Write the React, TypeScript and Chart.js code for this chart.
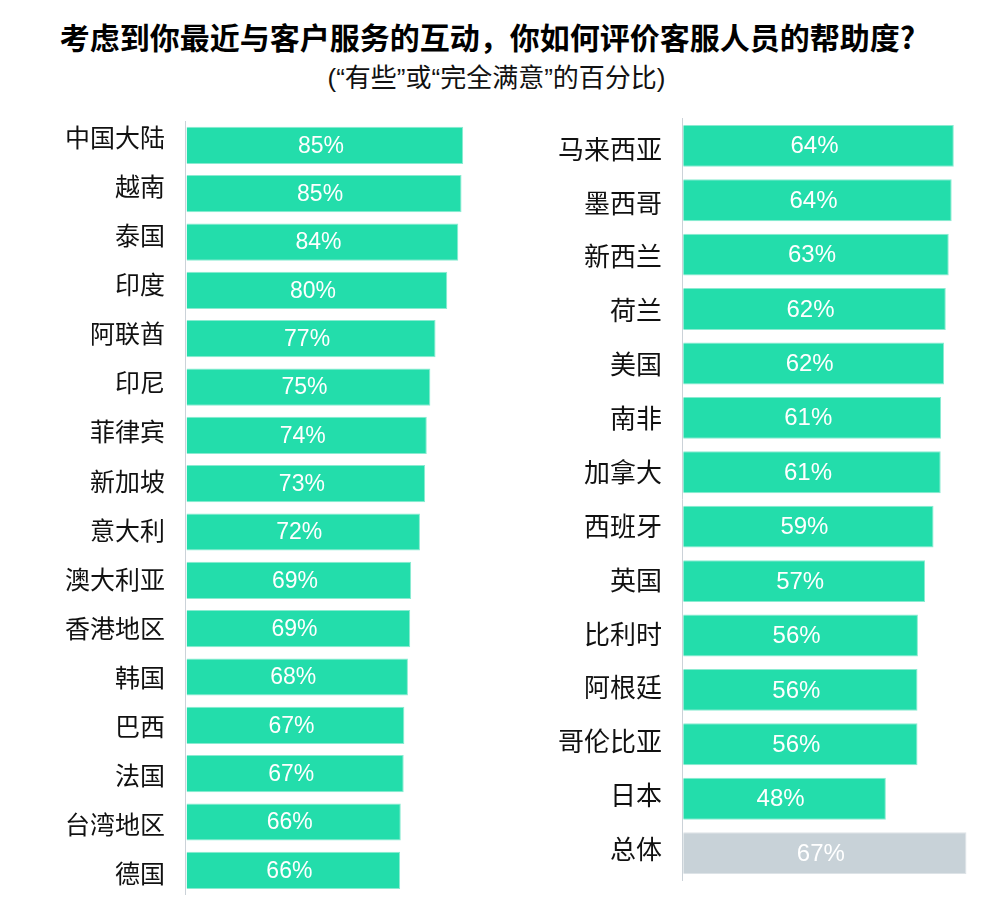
import React, { useEffect, useRef } from "react";
import { Chart, registerables } from "chart.js";

Chart.register(...registerables);

const titleText = "考虑到你最近与客户服务的互动，你如何评价客服人员的帮助度?";
const subtitleText = "(“有些”或“完全满意”的百分比)";

const leftCountries = [
  "中国大陆", "越南", "泰国", "印度", "阿联酋", "印尼", "菲律宾", "新加坡",
  "意大利", "澳大利亚", "香港地区", "韩国", "巴西", "法国", "台湾地区", "德国",
];
const leftValues = [
  85.1, 84.6, 83.6, 80.2, 76.6, 75.0, 73.9, 73.4,
  71.8, 69.1, 68.8, 68.1, 67.0, 66.8, 65.9, 65.7,
];

const rightCountries = [
  "马来西亚", "墨西哥", "新西兰", "荷兰", "美国", "南非", "加拿大",
  "西班牙", "英国", "比利时", "阿根廷", "哥伦比亚", "日本", "总体",
];
const rightValues = [
  64.1, 63.6, 62.9, 62.2, 61.8, 61.1, 61.0,
  59.3, 57.3, 55.6, 55.5, 55.5, 48.0, 67.1,
];

const TEAL = "#23DDAB";
const TEAL_EDGE = "#8BEBD1";
const GRAY = "#C8D2D8";
const GRAY_EDGE = "#DDE3E7";
const CJK = '"Noto Sans CJK SC", "Noto Sans", sans-serif';
const NUM = '"Liberation Sans", "Noto Sans CJK SC", sans-serif';

const makeValueLabelPlugin = (size: number) => ({
  id: "valueLabels",
  afterDatasetsDraw(chart: any) {
    const ctx = chart.ctx;
    const meta = chart.getDatasetMeta(0);
    const data = chart.data.datasets[0].data as number[];
    ctx.save();
    ctx.fillStyle = "#ffffff";
    ctx.font = `${size}px ${NUM}`;
    ctx.textAlign = "center";
    ctx.textBaseline = "middle";
    meta.data.forEach((el: any, i: number) => {
      const cx = (el.x + el.base) / 2 - 4;
      ctx.fillText(`${Math.round(data[i])}%`, cx, el.y + 1);
    });
    ctx.restore();
  },
});

type PanelProps = {
  labels: string[];
  values: number[];
  colors: string[];
  edges: string[];
  axisWidth: number;
  xMin: number;
  xMax: number;
  labelMin: number;
  labelMax: number;
  padding: { top: number; bottom: number; left: number; right: number };
  width: number;
  height: number;
  fontSize: number;
  valueSize: number;
};

function Panel(p: PanelProps) {
  const ref = useRef<HTMLCanvasElement | null>(null);
  useEffect(() => {
    if (!ref.current) return;
    const chart = new Chart(ref.current, {
      type: "bar",
      data: {
        labels: p.labels,
        datasets: [
          {
            data: p.values,
            backgroundColor: p.colors,
            borderColor: p.edges,
            borderWidth: 1,
            barPercentage: 0.77,
            categoryPercentage: 1,
          },
        ],
      },
      options: {
        indexAxis: "y",
        animation: false,
        responsive: false,
        maintainAspectRatio: false,
        layout: { padding: p.padding },
        plugins: {
          legend: { display: false },
          tooltip: { enabled: false },
          title: { display: false },
        },
        scales: {
          x: { type: "linear", display: false, min: p.xMin, max: p.xMax },
          y: { type: "category", display: false },
          yl: {
            type: "linear",
            axis: "y",
            position: "left",
            reverse: true,
            offset: false,
            min: p.labelMin,
            max: p.labelMax,
            grid: { display: false, drawTicks: false, offset: false },
            border: { display: true, color: "#CBD2D8", width: 1 },
            ticks: {
              autoSkip: false,
              padding: 20,
              color: "#111111",
              font: { family: CJK, size: p.fontSize },
              callback: (v: any) => p.labels[v as number] ?? "",
            },
            afterBuildTicks: (s: any) => {
              s.ticks = p.labels.map((_, i) => ({ value: i }));
            },
            afterFit: (s: any) => {
              s.width = p.axisWidth;
              s.paddingTop = 0;
              s.paddingBottom = 0;
            },
          } as any,
        },
      },
      plugins: [makeValueLabelPlugin(p.valueSize)],
    });
    return () => chart.destroy();
  }, []);
  return <canvas ref={ref} width={p.width} height={p.height} style={{ display: "block", width: p.width, height: p.height }} />;
}

export default function App() {
  const leftColors = leftValues.map(() => TEAL);
  const leftEdges = leftValues.map(() => TEAL_EDGE);
  const rightColors = rightCountries.map((c) => (c === "总体" ? GRAY : TEAL));
  const rightEdges = rightCountries.map((c) => (c === "总体" ? GRAY_EDGE : TEAL_EDGE));
  return (
    <div style={{ position: "absolute", left: 0, top: 0, width: 1000, height: 920, background: "#fff", overflow: "hidden" }}>
      <div
        style={{
          position: "absolute",
          left: 0,
          top: 16,
          width: 975,
          textAlign: "center",
          fontFamily: CJK,
          fontWeight: 700,
          fontSize: 30,
          lineHeight: "40px",
          color: "#000",
          whiteSpace: "nowrap",
        }}
      >
        {titleText}
      </div>
      <div
        style={{
          position: "absolute",
          left: 0,
          top: 62,
          width: 993,
          textAlign: "center",
          fontFamily: '"Liberation Sans", "Noto Sans CJK SC", sans-serif',
          fontSize: 26,
          lineHeight: "32px",
          color: "#111",
          whiteSpace: "nowrap",
        }}
      >
        {subtitleText}
      </div>
      <div style={{ position: "absolute", left: 0, top: 100 }}>
        <Panel
          labels={leftCountries}
          values={leftValues}
          colors={leftColors}
          edges={leftEdges}
          axisWidth={185}
          xMin={-0.5}
          xMax={100}
          labelMin={-0.332}
          labelMax={15.423}
          padding={{ top: 21.2, bottom: 15.5, left: 0, right: 8.4 }}
          width={520}
          height={810}
          fontSize={25}
          valueSize={23}
        />
      </div>
      <div style={{ position: "absolute", left: 500, top: 100 }}>
        <Panel
          labels={rightCountries}
          values={rightValues}
          colors={rightColors}
          edges={rightEdges}
          axisWidth={182}
          xMin={-0.3}
          xMax={70}
          labelMin={-0.56}
          labelMax={13.577}
          padding={{ top: 18.65, bottom: 29.7, left: 0, right: 21.3 }}
          width={500}
          height={810}
          fontSize={26}
          valueSize={24}
        />
      </div>
    </div>
  );
}
